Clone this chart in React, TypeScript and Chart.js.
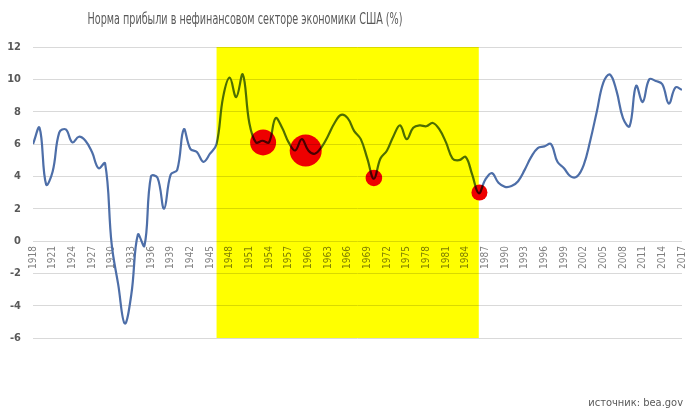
import React, { useEffect, useRef } from 'react';
import { Chart, registerables } from 'chart.js';

Chart.register(...registerables);

const TITLE = 'Норма прибыли в нефинансовом секторе экономики США (%)';
const SOURCE = 'источник: bea.gov';

const YEARS = [
  1918, 1919, 1920, 1921, 1922, 1923, 1924, 1925, 1926, 1927,
  1928, 1929, 1930, 1931, 1932, 1933, 1934, 1935, 1936, 1937,
  1938, 1939, 1940, 1941, 1942, 1943, 1944, 1945, 1946, 1947,
  1948, 1949, 1950, 1951, 1952, 1953, 1954, 1955, 1956, 1957,
  1958, 1959, 1960, 1961, 1962, 1963, 1964, 1965, 1966, 1967,
  1968, 1969, 1970, 1971, 1972, 1973, 1974, 1975, 1976, 1977,
  1978, 1979, 1980, 1981, 1982, 1983, 1984, 1985, 1986, 1987,
  1988, 1989, 1990, 1991, 1992, 1993, 1994, 1995, 1996, 1997,
  1998, 1999, 2000, 2001, 2002, 2003, 2004, 2005, 2006, 2007,
  2008, 2009, 2010, 2011, 2012, 2013, 2014, 2015, 2016, 2017,
];

const PROFIT_RATE = [
  6.0, 7.0, 3.5, 4.3, 6.7, 6.9, 6.1, 6.45, 6.2, 5.5,
  4.5, 4.8, -0.2, -2.7, -5.1, -3.3, 0.4, -0.3, 4.0, 3.9,
  2.0, 4.1, 4.4, 6.9, 5.7, 5.5, 4.9, 5.4, 6.0, 8.9,
  10.1, 8.9, 10.3, 7.3, 6.1, 6.2, 6.1, 7.6, 7.0, 6.1,
  5.6, 6.3, 5.6, 5.4, 5.8, 6.5, 7.3, 7.8, 7.6, 6.8,
  6.3, 5.1, 3.85, 5.1, 5.6, 6.5, 7.15, 6.3, 7.0, 7.15,
  7.1, 7.3, 6.9, 6.1, 5.1, 5.0, 5.2, 4.1, 2.95, 3.8,
  4.2, 3.6, 3.35, 3.4, 3.7, 4.4, 5.2, 5.75, 5.85, 6.0,
  4.9, 4.5, 4.0, 4.0, 4.7, 6.2, 8.0, 9.8, 10.3, 9.3,
  7.6, 7.1, 9.6, 8.6, 10.0, 9.9, 9.7, 8.5, 9.5, 9.35,
];

const HIGHLIGHT_YEARS = [1953.1, 1959.6, 1970, 1986.1];
const HIGHLIGHT_VALUES = [6.1, 5.6, 3.9, 3.0];

const BAND_START = 1946;
const BAND_END = 1986;

const Y_MIN = -6;
const Y_MAX = 12;
const Y_STEP = 2;
const X_STEP = 3;

const FONT = "'Liberation Sans Narrow', 'DejaVu Sans Condensed', Roboto, sans-serif";

const decorPlugin = {
  id: 'decor',
  beforeDatasetDraw(chart: any, args: any) {
    if (args.index === 1) {
      chart.ctx.save();
      chart.ctx.globalCompositeOperation = 'multiply';
    }
  },
  afterDatasetDraw(chart: any, args: any) {
    const { ctx, chartArea, scales } = chart;
    if (args.index === 0) {
      const x0 = scales.x.getPixelForValue(BAND_START);
      const x1 = scales.x.getPixelForValue(BAND_END);
      ctx.save();
      ctx.globalCompositeOperation = 'multiply';
      ctx.fillStyle = 'rgb(255,255,0)';
      ctx.fillRect(x0, chartArea.top, x1 - x0, chartArea.bottom - chartArea.top);
      ctx.restore();
    } else if (args.index === 1) {
      ctx.restore();
    }
  },
  afterDraw(chart: any) {
    const { ctx } = chart;
    ctx.save();
    ctx.fillStyle = '#595959';
    ctx.textBaseline = 'middle';
    ctx.textAlign = 'center';
    ctx.font = `16px ${FONT}`;
    ctx.fillText(TITLE, 245, 20, 315);
    ctx.textAlign = 'right';
    ctx.font = `11px ${FONT}`;
    ctx.fillText(SOURCE, 683, 403);
    ctx.restore();
  },
};

export default function App() {
  const ref = useRef<HTMLCanvasElement | null>(null);

  useEffect(() => {
    document.body.style.margin = '0';
    const canvas = ref.current;
    if (!canvas) return;
    const chart = new Chart(canvas, {
      type: 'line',
      data: {
        datasets: [
          {
            data: YEARS.map((y, i) => ({ x: y, y: PROFIT_RATE[i] })),
            borderColor: '#4d6ea8',
            borderWidth: 2.2,
            pointRadius: 0,
            tension: 0.4,
            fill: false,
            order: 2,
          },
          {
            data: HIGHLIGHT_YEARS.map((y, i) => ({ x: y, y: HIGHLIGHT_VALUES[i] })),
            showLine: false,
            pointRadius: [13, 16, 8.3, 8],
            pointHoverRadius: [13, 16, 8.3, 8],
            backgroundColor: 'rgb(238,0,0)',
            borderWidth: 0,
            order: 1,
          },
        ],
      },
      options: {
        animation: false,
        responsive: true,
        maintainAspectRatio: false,
        layout: { padding: { left: 0, top: 47, right: 18, bottom: 76 } },
        plugins: {
          legend: { display: false },
          tooltip: { enabled: false },
          title: { display: false },
        },
        scales: {
          x: {
            type: 'linear',
            min: YEARS[0],
            max: YEARS[YEARS.length - 1],
            position: { y: 0 } as any,
            grid: { display: false, drawTicks: false },
            border: { display: false },
            ticks: {
              stepSize: X_STEP,
              autoSkip: false,
              minRotation: 90,
              maxRotation: 90,
              padding: 5,
              color: '#7f7f7f',
              font: { family: FONT, size: 10 },
              callback: (v: any) => String(v),
            },
          },
          y: {
            min: Y_MIN,
            max: Y_MAX,
            grid: { color: '#d9d9d9', lineWidth: 1, drawTicks: false },
            border: { display: false },
            ticks: {
              stepSize: Y_STEP,
              padding: 12,
              color: '#595959',
              font: { family: FONT, size: 11, weight: 'bold' },
            },
            afterFit: (scale: any) => {
              scale.width = 33;
            },
          },
        },
      },
      plugins: [decorPlugin],
    } as any);
    return () => chart.destroy();
  }, []);

  return (
    <div style={{ width: 700, height: 414, position: 'relative', background: '#fff' }}>
      <canvas ref={ref} />
    </div>
  );
}
